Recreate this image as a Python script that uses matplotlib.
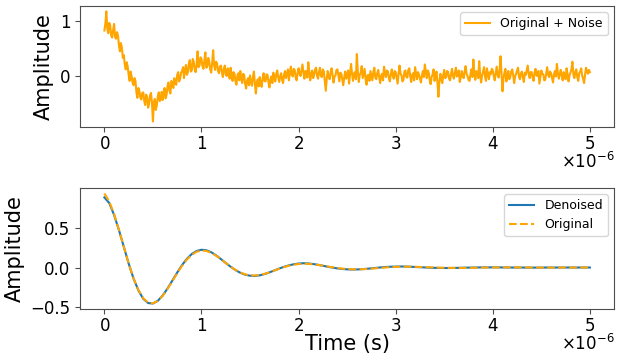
import matplotlib
matplotlib.use("Agg")
import matplotlib.pyplot as plt
import matplotlib.transforms as mtransforms
from matplotlib.ticker import ScalarFormatter
import numpy as np

# noisy signal, sampled every 0.01 us
noisy = [
    0.83, 0.95, 1.18, 0.86, 0.78, 0.97, 0.92, 0.74, 0.70, 0.84, 0.95, 0.71, 0.68, 0.80, 0.74, 0.56, 0.45, 0.60, 0.52, 0.33,
    0.38, 0.21, 0.12, 0.25, 0.17, 0.02, -0.09, 0.08, 0.00, -0.12, -0.17, -0.04, -0.09, -0.30, -0.40, -0.22, -0.27, -0.39, -0.43, -0.31,
    -0.30, -0.45, -0.53, -0.34, -0.39, -0.58, -0.51, -0.36, -0.31, -0.49, -0.83, -0.47, -0.42, -0.62, -0.53, -0.38, -0.30, -0.46, -0.43, -0.29,
    -0.44, -0.31, -0.22, -0.41, -0.35, -0.19, -0.12, -0.27, -0.32, -0.09, -0.13, -0.22, -0.04, -0.14, -0.16, 0.02, 0.07, -0.10, -0.05, 0.06,
    0.09, 0.16, -0.04, 0.11, 0.20, 0.02, 0.07, 0.23, 0.29, 0.08, 0.10, 0.31, 0.26, 0.12, 0.07, 0.22, 0.45, 0.16, 0.19, 0.34,
    0.31, 0.18, 0.13, 0.29, 0.43, 0.15, 0.18, 0.33, 0.26, 0.12, 0.06, 0.24, 0.47, 0.20, 0.11, 0.26, 0.23, 0.09, 0.05, 0.17,
    0.19, 0.07, -0.02, 0.12, 0.19, 0.03, 0.00, 0.14, 0.06, -0.05, 0.15, 0.02, -0.09, 0.07, 0.04, -0.10, -0.16, 0.01, 0.05, -0.08,
    0.09, -0.05, -0.13, 0.04, 0.01, -0.15, -0.23, -0.08, -0.04, -0.17, 0.01, -0.11, -0.18, -0.02, 0.08, -0.14, -0.32, -0.12, -0.06, -0.19,
    -0.02, -0.13, -0.20, -0.04, 0.05, -0.09, -0.10, 0.03, 0.02, -0.12, -0.21, -0.06, -0.01, -0.13, 0.06, -0.04, -0.10, 0.03, 0.10, -0.02,
    -0.11, -0.01, 0.05, -0.07, -0.13, 0.02, 0.09, -0.04, 0.04, 0.12, -0.08, 0.05, 0.17, 0.03, -0.01, 0.13, 0.11, -0.03, -0.08, 0.06,
    0.14, 0.04, 0.00, 0.11, 0.21, 0.06, -0.05, 0.09, 0.08, -0.03, 0.25, 0.07, -0.08, 0.04, 0.10, -0.04, 0.02, 0.12, 0.15, 0.01,
    -0.05, 0.07, 0.15, 0.00, -0.02, 0.12, 0.08, -0.09, -0.27, -0.05, 0.09, -0.02, -0.06, 0.06, 0.14, 0.02, -0.12, -0.01, 0.01, 0.11,
    0.12, 0.01, -0.10, 0.06, 0.04, -0.07, -0.17, -0.03, 0.08, -0.05, 0.02, 0.10, -0.14, 0.03, 0.22, 0.05, -0.09, 0.04, 0.07, -0.06,
    0.40, 0.08, -0.11, 0.02, 0.06, 0.18, -0.04, 0.05, 0.13, -0.06, -0.16, 0.01, 0.02, -0.09, 0.09, 0.00, -0.08, 0.07, 0.15, -0.03,
    -0.06, 0.05, 0.11, -0.02, -0.13, 0.00, 0.04, -0.08, 0.17, 0.06, -0.02, 0.10, 0.08, -0.04, -0.10, 0.03, 0.12, 0.01, -0.05, 0.09,
    0.07, -0.03, -0.14, 0.05, 0.19, 0.04, 0.01, -0.10, -0.07, 0.08, 0.10, -0.02, -0.03, 0.11, 0.14, -0.01, -0.11, 0.02, 0.05, -0.08,
    0.16, 0.04, -0.06, 0.07, 0.02, -0.05, -0.12, 0.01, 0.09, -0.02, 0.21, 0.08, -0.04, 0.10, 0.06, -0.07, -0.15, -0.02, 0.03, 0.12,
    -0.09, -0.01, 0.08, -0.12, -0.38, -0.10, 0.04, -0.06, -0.13, 0.02, 0.11, -0.04, -0.02, 0.09, 0.07, -0.05, -0.08, 0.04, 0.13, 0.00,
    -0.05, 0.06, 0.15, -0.01, 0.02, 0.10, -0.11, -0.03, 0.09, 0.01, -0.04, 0.08, 0.18, 0.04, 0.00, -0.07, -0.09, 0.03, 0.12, -0.02,
    0.30, 0.05, -0.07, 0.09, 0.05, -0.04, 0.27, 0.02, -0.12, 0.01, 0.08, 0.16, -0.01, -0.09, 0.14, 0.04, -0.06, 0.07, 0.03, 0.13,
    0.10, 0.00, -0.08, 0.05, 0.17, 0.02, -0.03, 0.11, 0.36, 0.04, -0.28, -0.05, 0.06, 0.13, -0.10, 0.01, 0.09, -0.06, -0.02, 0.08,
    0.12, 0.02, -0.13, -0.01, 0.04, 0.10, 0.15, -0.02, -0.06, 0.05, 0.08, -0.03, -0.11, 0.06, 0.02, 0.11, 0.19, 0.03, -0.04, 0.07,
    0.07, -0.03, -0.09, 0.06, 0.13, 0.01, 0.00, 0.09, -0.14, -0.02, 0.10, 0.04, 0.03, -0.08, -0.07, 0.05, 0.16, 0.02, -0.02, 0.08,
    0.05, -0.04, -0.12, 0.03, 0.09, -0.01, 0.22, 0.06, -0.05, 0.04, 0.11, 0.00, -0.08, 0.07, 0.02, -0.06, 0.14, 0.03, -0.10, 0.01,
    0.06, 0.12, 0.26, 0.03, -0.04, 0.07, 0.12, -0.02, -0.09, 0.05, 0.08, 0.14, 0.01, -0.05, -0.13, 0.02, 0.15, 0.09, 0.04, 0.11,
    0.07,
]

# clean and denoised signals, sampled every 0.05 us
original = [
    0.93, 0.83, 0.67, 0.47, 0.26, 0.05, -0.135, -0.282, -0.385, -0.441,
    -0.450, -0.419, -0.356, -0.269, -0.171, -0.071, 0.022, 0.101, 0.160, 0.198,
    0.213, 0.208, 0.185, 0.149, 0.104, 0.057, 0.011, -0.030, -0.063, -0.086,
    -0.098, -0.100, -0.094, -0.079, -0.060, -0.038, -0.016, 0.005, 0.023, 0.036,
    0.044, 0.048, 0.046, 0.041, 0.033, 0.023, 0.013, 0.002, -0.007, -0.014,
    -0.019, -0.022, -0.022, -0.021, -0.018, -0.013, -0.009, -0.004, 0.001, 0.005,
    0.008, 0.010, 0.011, 0.010, 0.009, 0.007, 0.005, 0.003, 0.001, -0.002,
    -0.003, -0.004, -0.005, -0.005, -0.005, -0.004, -0.003, -0.002, -0.001, 0.000,
    0.001, 0.001, 0.002, 0.002, 0.002, 0.002, 0.001, 0.001, 0.000, 0.000,
    -0.001, -0.001, -0.001, -0.001, 0.000, 0.000, 0.000, 0.000, 0.000, 0.000, 0.000,
]
denoised = [
    0.88, 0.81, 0.66, 0.47, 0.26, 0.05, -0.137, -0.287, -0.392, -0.446,
    -0.452, -0.418, -0.352, -0.263, -0.164, -0.063, 0.031, 0.110, 0.170, 0.208,
    0.223, 0.217, 0.192, 0.153, 0.106, 0.057, 0.010, -0.032, -0.066, -0.090,
    -0.103, -0.105, -0.098, -0.082, -0.061, -0.037, -0.013, 0.009, 0.027, 0.041,
    0.050, 0.054, 0.051, 0.044, 0.034, 0.022, 0.010, -0.001, -0.011, -0.018,
    -0.023, -0.025, -0.024, -0.021, -0.016, -0.010, -0.004, 0.002, 0.007, 0.010,
    0.012, 0.013, 0.012, 0.010, 0.007, 0.004, 0.001, -0.002, -0.004, -0.005,
    -0.006, -0.006, -0.005, -0.004, -0.002, -0.001, 0.000, 0.001, 0.002, 0.002,
    0.002, 0.002, 0.001, 0.001, 0.000, 0.000, 0.000, -0.001, -0.001, -0.001,
    -0.001, 0.000, 0.000, 0.000, 0.000, 0.000, 0.000, 0.000, 0.000, 0.000, 0.000,
]

t_noisy = np.linspace(0, 5e-6, len(noisy))
t_clean = np.linspace(0, 5e-6, len(original))

fig, (ax1, ax2) = plt.subplots(2, 1, figsize=(6.21, 3.64), dpi=100)
fig.subplots_adjust(left=0.129, right=0.989, top=0.984, bottom=0.151, hspace=0.504)

ax1.plot(t_noisy, noisy, color='orange', label='Original + Noise')
ax1.set_ylabel('Amplitude', fontsize=15)
ax1.legend(loc='upper right', fontsize=9)

ax2.plot(t_clean, denoised, color='tab:blue', label='Denoised')
ax2.plot(t_clean, original, '--', color='orange', label='Original')
ax2.set_ylabel('Amplitude', fontsize=15)
ax2.set_xlabel('Time (s)', fontsize=15, labelpad=-1)
ax2.legend(loc='upper right', fontsize=9)

for ax in (ax1, ax2):
    fmt = ScalarFormatter(useMathText=True)
    ax.xaxis.set_major_formatter(fmt)
    ax.tick_params(labelsize=12, color='0.3')
    ax.tick_params(axis='x', pad=2.5)
    off = ax.xaxis.get_offset_text()
    off.set_fontsize(12)
    # nudge the exponent label up a little, as in the reference
    off.set_transform(off.get_transform() +
                      mtransforms.ScaledTranslation(0, 4 / 72, fig.dpi_scale_trans))
    for sp in ax.spines.values():
        sp.set_color('0.3')

fig.savefig('out.png', dpi=100)
plt.close(fig)
